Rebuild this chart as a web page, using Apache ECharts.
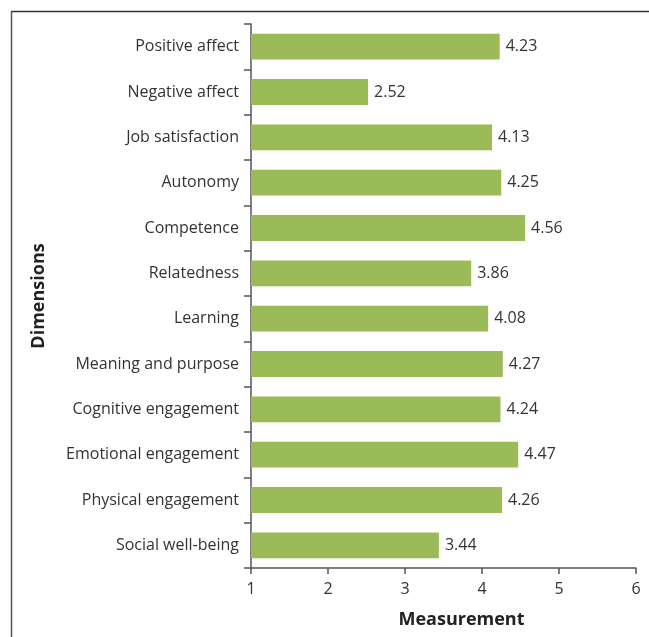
<!DOCTYPE html>
<html><head><meta charset="utf-8">
<script src="https://cdn.jsdelivr.net/npm/echarts@6/dist/echarts.min.js"></script>
<style>html,body{margin:0;padding:0;background:#fff}#c{width:649px;height:637px}</style>
</head><body><div id="c"></div>
<script>
const categories = ["Positive affect","Negative affect","Job satisfaction","Autonomy","Competence","Relatedness","Learning","Meaning and purpose","Cognitive engagement","Emotional engagement","Physical engagement","Social well-being"];
const values = [4.23,2.52,4.13,4.25,4.56,3.86,4.08,4.27,4.24,4.47,4.26,3.44];
const xTicks = [1,2,3,4,5,6];
const FONT = "Open Sans";
const chart = echarts.init(document.getElementById('c'), null, {renderer:'canvas'});
chart.setOption({
  animation:false,
  grid:{left:251,right:13,top:24,bottom:69,containLabel:false},
  xAxis:{type:'value',min:xTicks[0],max:xTicks[xTicks.length-1],interval:1,
    name:'Measurement',nameLocation:'middle',nameGap:43,
    nameTextStyle:{fontFamily:FONT,fontSize:18,fontWeight:'bold',color:'#222',padding:[0,0,0,36]},
    axisLine:{show:true,lineStyle:{color:'#555',width:1.5}},
    axisTick:{show:true,length:6,lineStyle:{color:'#555',width:1.5}},
    axisLabel:{fontFamily:FONT,fontSize:16,color:'#333',margin:13},
    splitLine:{show:false}},
  yAxis:{type:'category',data:categories,inverse:true,
    name:'Dimensions',nameLocation:'middle',nameGap:203,nameRotate:90,
    nameTextStyle:{fontFamily:FONT,fontSize:18,fontWeight:'bold',color:'#222'},
    axisLine:{show:true,lineStyle:{color:'#555',width:1.5}},
    axisTick:{show:true,length:7,alignWithLabel:false,lineStyle:{color:'#555',width:1.5}},
    axisLabel:{fontFamily:FONT,fontSize:16,color:'#333',margin:12}},
  series:[{type:'bar',data:values,barCategoryGap:'43%',
    itemStyle:{color:'#9BBB59'},
    label:{show:true,position:'right',distance:6,fontFamily:FONT,fontSize:16,color:'#333',
      formatter:p=>p.value.toFixed(2)}}],
  graphic:[
    {type:'line',shape:{x1:11,y1:11.5,x2:649,y2:11.5},style:{stroke:'#333',lineWidth:1.5}},
    {type:'line',shape:{x1:11.5,y1:11,x2:11.5,y2:637},style:{stroke:'#555',lineWidth:1.5}}
  ]
});
</script></body></html>
